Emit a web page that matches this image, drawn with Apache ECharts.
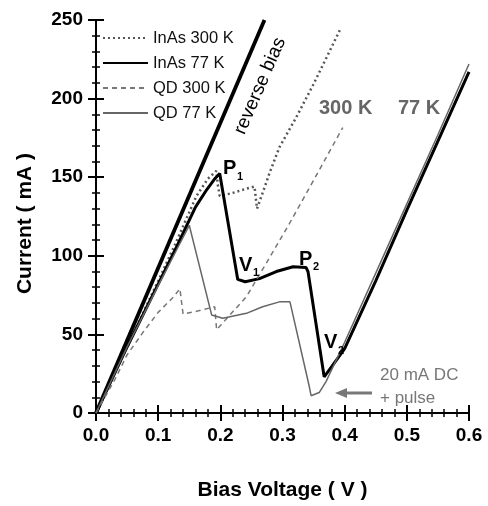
<!DOCTYPE html>
<html>
<head>
<meta charset="utf-8">
<script src="https://cdn.jsdelivr.net/npm/echarts@6/dist/echarts.min.js"></script>
<style>
html,body{margin:0;padding:0;background:#fff;}
#c{width:488px;height:506px;}
</style>
</head>
<body>
<div id="c"></div>
<script>
// ---- data ----
var reverseV = [0, 0.271];
var reverseI = [0, 250];

var inas300V = [0, 0.05, 0.1, 0.127, 0.1615, 0.18, 0.1935, 0.196, 0.199, 0.22, 0.24, 0.255, 0.257, 0.259, 0.268, 0.279, 0.295, 0.322, 0.349, 0.375, 0.394];
var inas300I = [0, 42, 84, 107, 138, 149, 154, 145, 138, 140, 142.5, 144, 137, 130, 140, 152.5, 169, 188, 208.5, 229.5, 245];

var inas77V = [0, 0.05, 0.1, 0.13, 0.16, 0.178, 0.19, 0.199, 0.228, 0.24, 0.263, 0.29, 0.317, 0.338, 0.341, 0.367, 0.38, 0.4, 0.45, 0.5, 0.55, 0.6];
var inas77I = [0, 42, 82, 106, 131, 142, 148.5, 152.4, 85, 83.5, 85.5, 90, 93, 92.5, 90, 23, 30, 41, 84, 129, 173, 217];

var qd300V = [0, 0.03, 0.05, 0.075, 0.1, 0.125, 0.135, 0.14, 0.165, 0.191, 0.194, 0.21, 0.242, 0.275, 0.309, 0.35, 0.397];
var qd300I = [0, 21, 37, 51, 64, 74, 79, 63, 65, 67.6, 53, 60, 74, 96, 119, 148, 181.6];

var qd77V = [0, 0.05, 0.1, 0.13, 0.15, 0.186, 0.204, 0.242, 0.268, 0.295, 0.312, 0.343, 0.346, 0.359, 0.37, 0.4, 0.45, 0.5, 0.55, 0.6];
var qd77I = [0, 42, 81, 104, 119.4, 62.4, 60.3, 63.4, 67.6, 70.7, 70.7, 17, 11, 13, 20, 45, 89, 133, 177, 222];

var seriesNames = ['InAs 300 K', 'InAs 77 K', 'QD 300 K', 'QD 77 K'];
var xTicks = {min: 0, max: 0.6, step: 0.1};
var yTicks = {min: 0, max: 250, step: 50};

function zip(a, b) { return a.map(function (v, i) { return [v, b[i]]; }); }

var FONT = '"Liberation Sans", Arial, Helvetica, sans-serif';
var chart = echarts.init(document.getElementById('c'), null, {renderer: 'canvas'});

var tickStyle = {show: true, inside: true, length: 8, lineStyle: {color: '#000', width: 2}};
var minorStyle = {show: true, splitNumber: 5, length: 4, lineStyle: {color: '#000', width: 1.5}};
var axLine = {show: true, lineStyle: {color: '#000', width: 2}};

var option = {
  animation: false,
  backgroundColor: '#fff',
  grid: {left: 96, right: 19, top: 20, bottom: 84},
  legend: {
    orient: 'vertical', left: 102, top: 29.5, padding: 0, itemWidth: 45, itemHeight: 14, itemGap: 8,
    data: seriesNames,
    itemStyle: {opacity: 0},
    textStyle: {fontFamily: FONT, fontSize: 16.5, color: '#111'},
    selectedMode: false
  },
  xAxis: [{
    type: 'value', min: xTicks.min, max: xTicks.max, interval: xTicks.step,
    axisLine: axLine, axisTick: tickStyle, minorTick: minorStyle,
    splitLine: {show: false},
    axisLabel: {margin: 13, fontFamily: FONT, fontWeight: 'bold', fontSize: 19, color: '#000',
      formatter: function (v) { return v.toFixed(1); }},
    name: 'Bias Voltage ( V )', nameLocation: 'middle', nameGap: 67,
    nameTextStyle: {fontFamily: FONT, fontWeight: 'bold', fontSize: 21, color: '#000'}
  }, {
    type: 'value', position: 'top', min: xTicks.min, max: xTicks.max, interval: xTicks.step,
    axisLine: axLine, axisTick: tickStyle, minorTick: minorStyle, splitLine: {show: false},
    axisLabel: {show: false}
  }],
  yAxis: [{
    type: 'value', min: yTicks.min, max: yTicks.max, interval: yTicks.step,
    axisLine: axLine, axisTick: tickStyle, minorTick: minorStyle,
    splitLine: {show: false},
    axisLabel: {margin: 13, fontFamily: FONT, fontWeight: 'bold', fontSize: 19, color: '#000'},
    name: 'Current ( mA )', nameLocation: 'middle', nameGap: 60,
    nameTextStyle: {fontFamily: FONT, fontWeight: 'bold', fontSize: 21, color: '#000', padding: [0, 14, 0, 0]}
  }, {
    type: 'value', position: 'right', min: yTicks.min, max: yTicks.max, interval: yTicks.step,
    axisLine: axLine, axisTick: tickStyle, minorTick: minorStyle, splitLine: {show: false},
    axisLabel: {show: false}
  }],
  series: [{
    name: 'reverse bias', type: 'line', data: zip(reverseV, reverseI), symbol: 'none',
    lineStyle: {color: '#000', width: 3.8}, clip: true, z: 3
  }, {
    name: seriesNames[0], type: 'line', data: zip(inas300V, inas300I), symbol: 'none',
    lineStyle: {color: '#555', width: 2.5, type: [2, 3]}, itemStyle: {color: '#555'}
  }, {
    name: seriesNames[1], type: 'line', data: zip(inas77V, inas77I), symbol: 'none',
    lineStyle: {color: '#000', width: 3}, itemStyle: {color: '#000'}
  }, {
    name: seriesNames[2], type: 'line', data: zip(qd300V, qd300I), symbol: 'none',
    lineStyle: {color: '#777', width: 1.5, type: [5, 4]}, itemStyle: {color: '#777'}
  }, {
    name: seriesNames[3], type: 'line', data: zip(qd77V, qd77I), symbol: 'none',
    lineStyle: {color: '#666', width: 1.5}, itemStyle: {color: '#666'}
  }],
  graphic: []
};
chart.setOption(option);

function lab(text, x, y, size, weight, color, extra) {
  var o = {type: 'text', x: x, y: y, z: 100,
    style: {text: text, font: (weight || 'normal') + ' ' + size + 'px ' + FONT, fill: color || '#000',
      textAlign: 'left', textVerticalAlign: 'top'}};
  if (extra) { for (var k in extra) o[k] = extra[k]; }
  return o;
}
var g = [
  {type: 'text', x: 260, y: 86, rotation: 66.5 * Math.PI / 180, z: 100,
   style: {text: 'reverse bias', font: 'normal 19px ' + FONT, fill: '#000', textAlign: 'center', textVerticalAlign: 'middle'}},
  lab('P', 223, 158, 20, 'bold'), lab('1', 237, 171, 11, 'bold'),
  lab('V', 239, 255, 20, 'bold'), lab('1', 253, 267, 11, 'bold'),
  lab('P', 299, 249, 20, 'bold'), lab('2', 313, 261, 11, 'bold'),
  lab('V', 324, 332, 20, 'bold'), lab('2', 338, 345, 11, 'bold'),
  lab('300 K', 319, 98, 20, 'bold', '#666'),
  lab('77 K', 398, 98, 20, 'bold', '#666'),
  lab('20 mA DC', 380, 367, 17, 'normal', '#777'),
  lab('+ pulse', 380, 390, 17, 'normal', '#777'),
  {type: 'line', z: 100, shape: {x1: 372, y1: 393, x2: 345, y2: 393}, style: {stroke: '#777', lineWidth: 3}},
  {type: 'polygon', z: 100, shape: {points: [[335, 393], [347, 388], [347, 398]]}, style: {fill: '#777'}}
];
chart.setOption({graphic: g});
</script>
</body>
</html>
